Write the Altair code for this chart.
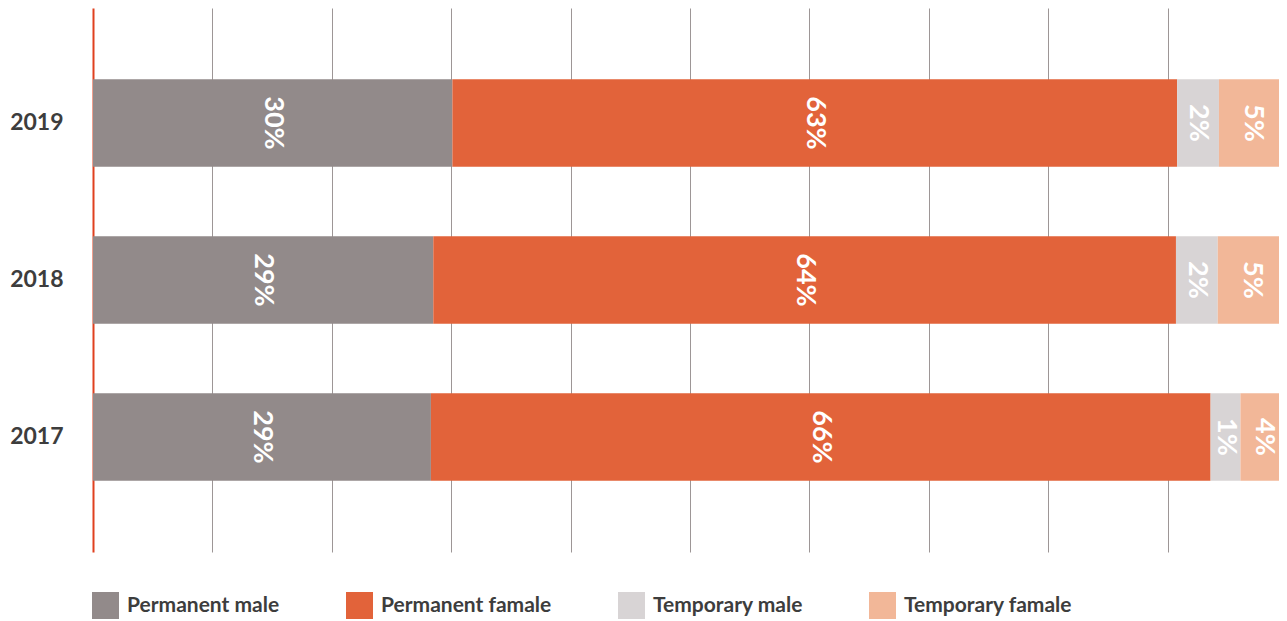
import altair as alt
import pandas as pd

years = ["2019", "2018", "2017"]
categories = ["Permanent male", "Permanent famale", "Temporary male", "Temporary famale"]
colors = ["#928a8a", "#e2633a", "#d8d4d5", "#f2b798"]

# bar lengths (percent of row)
perm_male = [30.1, 28.5, 28.3]
perm_female = [60.7, 62.2, 65.3]
temp_male = [3.5, 3.5, 2.5]
temp_female = [5.7, 5.8, 3.9]

# printed labels
perm_male_lbl = ["30%", "29%", "29%"]
perm_female_lbl = ["63%", "64%", "66%"]
temp_male_lbl = ["2%", "2%", "1%"]
temp_female_lbl = ["5%", "5%", "4%"]

grid_values = [10, 20, 30, 40, 50, 60, 70, 80, 90]

series = [perm_male, perm_female, temp_male, temp_female]
labels = [perm_male_lbl, perm_female_lbl, temp_male_lbl, temp_female_lbl]

rows = []
for ci, cat in enumerate(categories):
    for yi, yr in enumerate(years):
        rows.append({"year": yr, "category": cat, "order": ci,
                     "share": series[ci][yi], "label": labels[ci][yi]})
df = pd.DataFrame(rows)

FONT = "Lato"
TXT = "#3d3d3d"

base = alt.Chart(df).transform_stack(
    stack="share", groupby=["year"], as_=["x0", "x1"],
    sort=[alt.SortField("order", order="ascending")]
).transform_calculate(mid="(datum.x0 + datum.x1) / 2")

yenc = alt.Y("year:N", sort=years,
             scale=alt.Scale(paddingInner=0.443, paddingOuter=0.454),
             axis=alt.Axis(title=None, ticks=False, labelFont=FONT, labelFontSize=23,
                           labelFontWeight="bold", labelColor=TXT, labelPadding=30,
                           domainColor="#e0401f", domainWidth=2, grid=False))

bars = base.mark_bar(opacity=1, clip=True).encode(
    y=yenc,
    x=alt.X("x0:Q", scale=alt.Scale(domain=[0, 99.33], nice=False, zero=True),
            axis=alt.Axis(title=None, labels=False, ticks=False, domain=False, grid=True,
                          values=grid_values,
                          gridColor="#9d9696", gridWidth=1, gridOpacity=1)),
    x2="x1:Q",
    color=alt.Color("category:N", sort=categories,
                    scale=alt.Scale(domain=categories, range=colors),
                    legend=alt.Legend(title=None, orient="none", legendX=-1, legendY=584,
                                      direction="horizontal", symbolType="square",
                                      symbolSize=729, symbolStrokeWidth=0, symbolOpacity=1,
                                      labelFont=FONT, labelFontSize=21, labelFontWeight="bold",
                                      labelColor=TXT, labelOffset=8, columnPadding=66,
                                      padding=0, labelLimit=0)),
)

text = base.mark_text(angle=90, font=FONT, fontSize=27, fontWeight="bold",
                      color="white", align="center", baseline="middle").encode(
    y=alt.Y("year:N", sort=years),
    x=alt.X("mid:Q"),
    text="label:N",
)

chart = alt.layer(bars, text).properties(
    width=1186, height=544,
    autosize=alt.AutoSizeParams(type="none"),
    padding={"left": 85, "top": 0, "right": 0, "bottom": 67},
).configure_view(stroke=None)

chart.save("out.html", embed_options={"renderer": "svg", "actions": False})
